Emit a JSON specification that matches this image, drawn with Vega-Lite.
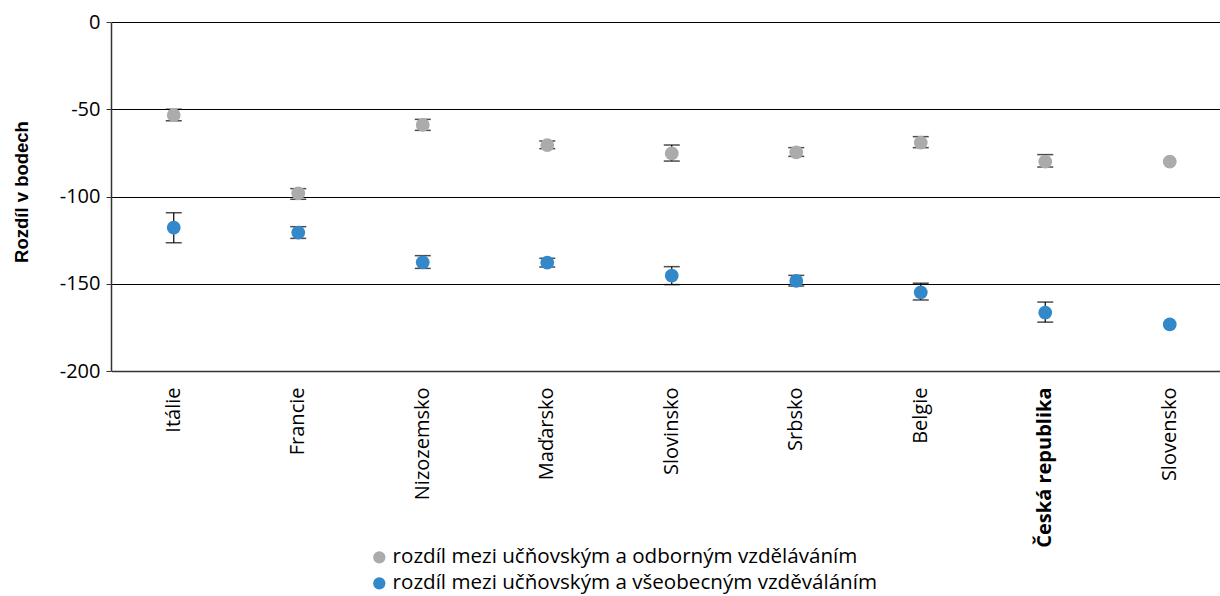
{
  "$schema": "https://vega.github.io/schema/vega-lite/v6.json",
  "width": 1108,
  "height": 349,
  "autosize": {"type": "none"},
  "padding": {"left": 111, "top": 22, "right": 1, "bottom": 225},
  "background": "white",
  "config": {
    "view": {"stroke": null},
    "font": "Open Sans"
  },
  "data": {
    "values": [
      {"country": "Itálie", "series": "rozdíl mezi učňovským a odborným vzděláváním", "value": -53.3, "lo": -50.0, "hi": -56.6},
      {"country": "Itálie", "series": "rozdíl mezi učňovským a všeobecným vzděváláním", "value": -117.9, "lo": -109.3, "hi": -126.5},
      {"country": "Francie", "series": "rozdíl mezi učňovským a odborným vzděláváním", "value": -98.2, "lo": -95.5, "hi": -101.6},
      {"country": "Francie", "series": "rozdíl mezi učňovským a všeobecným vzděváláním", "value": -120.7, "lo": -117.3, "hi": -124.0},
      {"country": "Nizozemsko", "series": "rozdíl mezi učňovským a odborným vzděláváním", "value": -59.0, "lo": -55.8, "hi": -62.1},
      {"country": "Nizozemsko", "series": "rozdíl mezi učňovským a všeobecným vzděváláním", "value": -137.7, "lo": -133.9, "hi": -141.2},
      {"country": "Maďarsko", "series": "rozdíl mezi učňovským a odborným vzděláváním", "value": -70.5, "lo": -68.2, "hi": -72.6},
      {"country": "Maďarsko", "series": "rozdíl mezi učňovským a všeobecným vzděváláním", "value": -137.9, "lo": -135.4, "hi": -140.4},
      {"country": "Slovinsko", "series": "rozdíl mezi učňovským a odborným vzděláváním", "value": -75.3, "lo": -70.5, "hi": -79.7},
      {"country": "Slovinsko", "series": "rozdíl mezi učňovským a všeobecným vzděváláním", "value": -145.4, "lo": -140.2, "hi": -150.5},
      {"country": "Srbsko", "series": "rozdíl mezi učňovským a odborným vzděláváním", "value": -74.7, "lo": -72.0, "hi": -77.0},
      {"country": "Srbsko", "series": "rozdíl mezi učňovským a všeobecným vzděváláním", "value": -148.4, "lo": -145.2, "hi": -151.3},
      {"country": "Belgie", "series": "rozdíl mezi učňovským a odborným vzděláváním", "value": -69.1, "lo": -65.7, "hi": -72.0},
      {"country": "Belgie", "series": "rozdíl mezi učňovským a všeobecným vzděváláním", "value": -154.9, "lo": -149.7, "hi": -159.3},
      {"country": "Česká republika", "series": "rozdíl mezi učňovským a odborným vzděláváním", "value": -80.0, "lo": -76.0, "hi": -83.1},
      {"country": "Česká republika", "series": "rozdíl mezi učňovským a všeobecným vzděváláním", "value": -166.6, "lo": -160.5, "hi": -172.0},
      {"country": "Slovensko", "series": "rozdíl mezi učňovským a odborným vzděláváním", "value": -80.0, "lo": null, "hi": null},
      {"country": "Slovensko", "series": "rozdíl mezi učňovským a všeobecným vzděváláním", "value": -173.3, "lo": null, "hi": null}
    ]
  },
  "encoding": {
    "x": {
      "field": "country",
      "type": "nominal",
      "sort": null,
      "scale": {"paddingInner": 0, "paddingOuter": 0, "range": [0.5, 1121]},
      "axis": {
        "title": null,
        "labelAngle": -90,
        "labelFontSize": 20,
        "labelColor": "#000",
        "labelPadding": 16,
        "ticks": false,
        "domain": true,
        "domainColor": "#333",
        "domainWidth": 1.5,
        "labelFontWeight": {"condition": {"test": "datum.value == 'Česká republika'", "value": "bold"}, "value": "normal"}
      }
    }
  },
  "layer": [
    {
      "mark": {"type": "rule", "color": "#000", "strokeWidth": 1.2},
      "transform": [{"filter": "datum.lo != null"}],
      "encoding": {
        "y": {"field": "lo", "type": "quantitative"},
        "y2": {"field": "hi"}
      }
    },
    {
      "mark": {"type": "tick", "color": "#000", "size": 16, "thickness": 1.5, "orient": "horizontal"},
      "transform": [{"filter": "datum.lo != null"}],
      "encoding": {
        "y": {"field": "lo", "type": "quantitative"}
      }
    },
    {
      "mark": {"type": "tick", "color": "#000", "size": 16, "thickness": 1.5, "orient": "horizontal"},
      "transform": [{"filter": "datum.hi != null"}],
      "encoding": {
        "y": {"field": "hi", "type": "quantitative"}
      }
    },
    {
      "mark": {"type": "point", "filled": true, "opacity": 1, "shape": "circle", "size": 190},
      "encoding": {
        "y": {
          "field": "value",
          "type": "quantitative",
          "scale": {"domain": [-200, 0], "nice": false},
          "axis": {
            "title": "Rozdíl v bodech",
            "titleFont": "Liberation Sans",
            "titleFontSize": 18.5,
            "titleFontWeight": "bold",
            "titleColor": "#000",
            "titleX": -90,
            "titleY": 169.5,
            "titleAngle": -90,
            "titleAlign": "center",
            "titleBaseline": "middle",
            "values": [0, -50, -100, -150, -200],
            "labelExpr": "replace(datum.label, '−', '-')",
            "labelFontSize": 20,
            "labelColor": "#000",
            "labelPadding": 6,
            "tickSize": 5,
            "tickColor": "#333",
            "domainColor": "#333",
            "domainWidth": 1.5,
            "grid": true,
            "gridColor": "#000",
            "gridWidth": 1
          }
        },
        "color": {
          "field": "series",
          "type": "nominal",
          "scale": {
            "domain": ["rozdíl mezi učňovským a odborným vzděláváním", "rozdíl mezi učňovským a všeobecným vzděváláním"],
            "range": ["#ABABAB", "#3388C9"]
          },
          "legend": {
            "title": null,
            "orient": "none",
            "legendX": 258,
            "legendY": 525,
            "direction": "vertical",
            "labelFontSize": 20.6,
            "labelColor": "#000",
            "labelOffset": 3,
            "symbolType": "circle",
            "symbolSize": 150,
            "rowPadding": 5,
            "labelLimit": 700
          }
        }
      }
    }
  ]
}
